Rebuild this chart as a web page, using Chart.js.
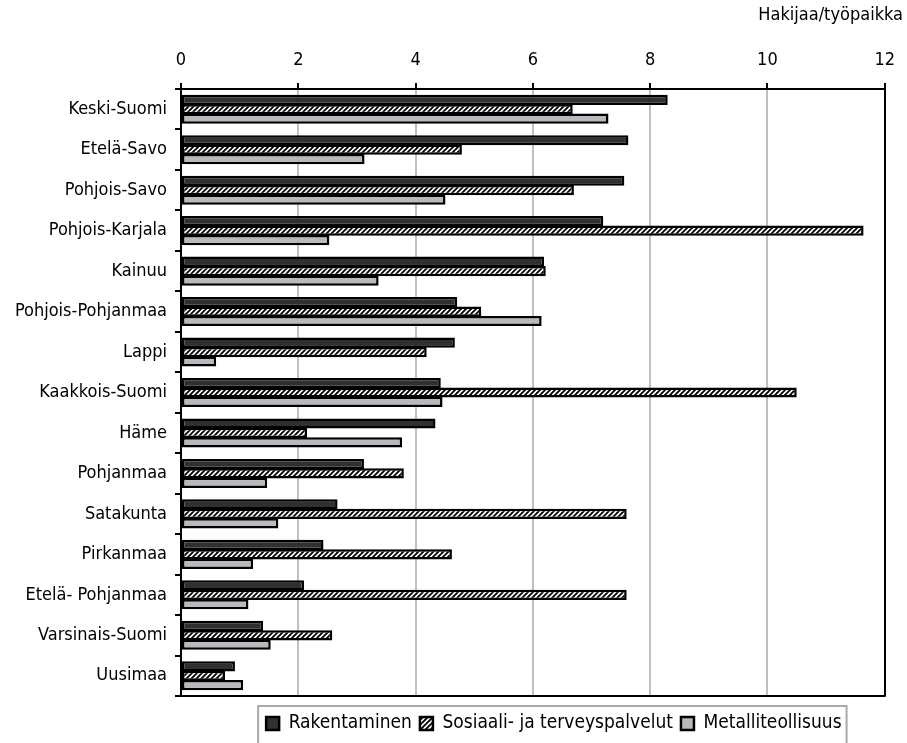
<!DOCTYPE html>
<html>
<head>
<meta charset="utf-8">
<script src="https://cdn.jsdelivr.net/npm/chart.js@4.4.1/dist/chart.umd.min.js"></script>
<style>
  html, body { margin: 0; padding: 0; background: #fff; }
  #wrap { width: 907px; height: 743px; }
</style>
</head>
<body>
<div id="wrap"><canvas id="c" width="907" height="743"></canvas></div>
<script>
// Regions, top to bottom
const regions = [
  'Keski-Suomi', 'Etelä-Savo', 'Pohjois-Savo', 'Pohjois-Karjala', 'Kainuu',
  'Pohjois-Pohjanmaa', 'Lappi', 'Kaakkois-Suomi', 'Häme', 'Pohjanmaa',
  'Satakunta', 'Pirkanmaa', 'Etelä- Pohjanmaa', 'Varsinais-Suomi', 'Uusimaa'
];

// Applicants per vacancy, by sector
const rakentaminen = [8.30, 7.63, 7.56, 7.20, 6.19, 4.71, 4.67, 4.43, 4.34, 3.12, 2.67, 2.43, 2.10, 1.40, 0.92];
const sosiaaliJaTerveys = [6.68, 4.79, 6.70, 11.64, 6.22, 5.12, 4.19, 10.50, 2.15, 3.80, 7.60, 4.62, 7.60, 2.58, 0.75];
const metalliteollisuus = [7.29, 3.13, 4.51, 2.53, 3.37, 6.15, 0.60, 4.46, 3.77, 1.47, 1.66, 1.23, 1.15, 1.53, 1.06];

const seriesNames = ['Rakentaminen', 'Sosiaali- ja terveyspalvelut', 'Metalliteollisuus'];
const unitLabel = 'Hakijaa/työpaikka';
const xMin = 0, xMax = 12, xStep = 2;

const FONT = "'Liberation Sans Narrow', 'DejaVu Sans Condensed', 'Open Sans', sans-serif";
Chart.defaults.font.family = FONT;
Chart.defaults.color = '#000';

// Diagonal hatch fill for the social/health series
function makeHatch() {
  const s = 5;
  const tile = document.createElement('canvas');
  tile.width = s; tile.height = s;
  const t = tile.getContext('2d');
  t.fillStyle = '#fff';
  t.fillRect(0, 0, s, s);
  t.strokeStyle = '#000';
  t.lineWidth = 1.9;
  t.beginPath();
  t.moveTo(0, s); t.lineTo(s, 0);
  t.moveTo(-1, 1); t.lineTo(1, -1);
  t.moveTo(s - 1, s + 1); t.lineTo(s + 1, s - 1);
  t.stroke();
  return document.getElementById('c').getContext('2d').createPattern(tile, 'repeat');
}
const hatch = makeHatch();

// Unit label above the axis, right-aligned at the canvas edge
const headerPlugin = {
  id: 'header',
  afterDraw(chart) {
    const ctx = chart.ctx;
    ctx.save();
    ctx.font = '18px ' + FONT;
    ctx.fillStyle = '#000';
    ctx.textAlign = 'right';
    ctx.textBaseline = 'middle';
    ctx.fillText(unitLabel, chart.width - 4, 15);
    ctx.restore();
  }
};

// Nudge the legend block a little right of the plot centre
const legendShift = {
  id: 'legendShift',
  afterLayout(chart) {
    const lg = chart.legend;
    if (!lg) return;
    lg.left += 21;
    lg.right += 21;
  }
};

// Bottom edge of the plot frame and the box around the legend
const framePlugin = {
  id: 'frame',
  afterDatasetsDraw(chart) {
    const { ctx, chartArea } = chart;
    ctx.save();
    ctx.strokeStyle = '#000';
    ctx.lineWidth = 2;
    ctx.beginPath();
    ctx.moveTo(chartArea.left - 1, chartArea.bottom);
    ctx.lineTo(chartArea.right + 1, chartArea.bottom);
    ctx.stroke();
    ctx.restore();
  },
  afterDraw(chart) {
    const lg = chart.legend;
    if (!lg || !lg.legendHitBoxes || !lg.legendHitBoxes.length) return;
    const boxes = lg.legendHitBoxes;
    const left = Math.min(...boxes.map(b => b.left)) - 8;
    const right = Math.max(...boxes.map(b => b.left + b.width)) + 5;
    const top = Math.min(...boxes.map(b => b.top)) - 8;
    const ctx = chart.ctx;
    ctx.save();
    ctx.strokeStyle = '#a9a9a9';
    ctx.lineWidth = 2;
    ctx.strokeRect(left, top, right - left, chart.height + 10 - top);
    ctx.restore();
  }
};

const common = { borderColor: '#000', borderWidth: 2.5, borderSkipped: false,
                 categoryPercentage: 0.70, barPercentage: 1.08 };

new Chart(document.getElementById('c'), {
  type: 'bar',
  data: {
    labels: regions,
    datasets: [
      Object.assign({ label: seriesNames[0], data: rakentaminen, backgroundColor: '#303030' }, common),
      Object.assign({ label: seriesNames[1], data: sosiaaliJaTerveys, backgroundColor: hatch }, common),
      Object.assign({ label: seriesNames[2], data: metalliteollisuus, backgroundColor: '#b8b9bc' }, common)
    ]
  },
  options: {
    indexAxis: 'y',
    responsive: false,
    animation: false,
    layout: { padding: { left: 0, right: 13, top: 0, bottom: 0 } },
    scales: {
      x: {
        position: 'top',
        min: xMin, max: xMax,
        ticks: { stepSize: xStep, font: { size: 18 }, color: '#000', padding: 12 },
        grid: {
          color: c => (c.tick && (c.tick.value === xMin || c.tick.value === xMax)) ? '#000' : '#c0c0c4',
          lineWidth: 2,
          tickColor: '#000',
          tickLength: 6
        },
        border: { color: '#000', width: 2 },
        afterFit(scale) { scale.height = 89; }
      },
      spacer: {
        type: 'linear',
        position: 'bottom',
        display: true,
        ticks: { display: false },
        grid: { display: false, drawTicks: false },
        border: { display: false },
        afterFit(scale) { scale.height = 10; }
      },
      y: {
        ticks: { font: { size: 18 }, color: '#000', padding: 8 },
        grid: {
          offset: true,
          drawOnChartArea: false,
          color: '#000',
          tickColor: '#000',
          lineWidth: 2,
          tickLength: 6
        },
        border: { color: '#000', width: 2 },
        afterFit(scale) { scale.width = 181; }
      }
    },
    plugins: {
      legend: {
        position: 'bottom',
        fullSize: false,
        labels: {
          font: { size: 19 },
          color: '#000',
          boxWidth: 13,
          boxHeight: 13,
          padding: 8
        }
      },
      tooltip: { enabled: false }
    }
  },
  plugins: [legendShift, headerPlugin, framePlugin]
});
</script>
</body>
</html>
